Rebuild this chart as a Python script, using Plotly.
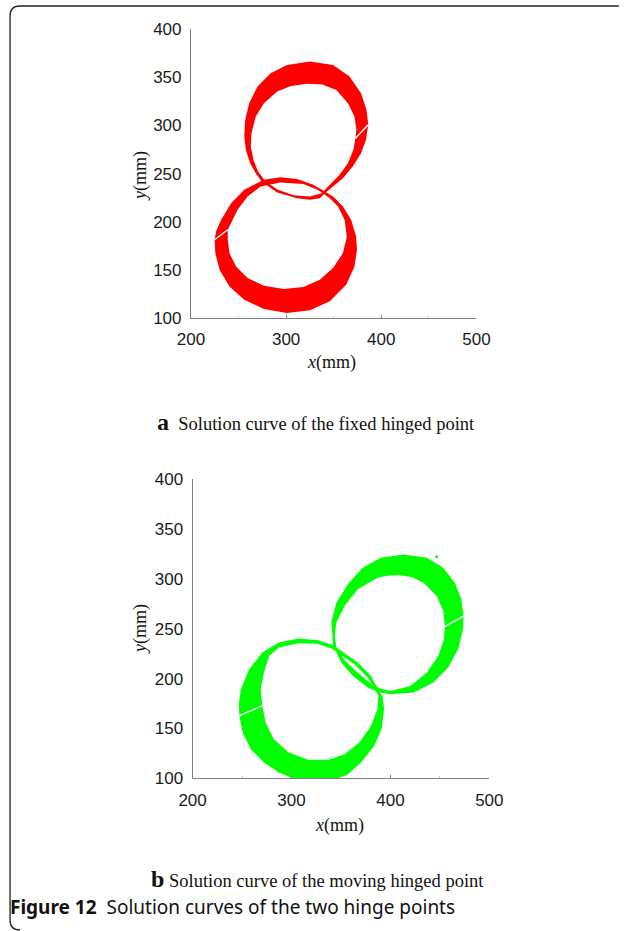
import plotly.graph_objects as go

W, H = 624, 931

# ---------------------------------------------------------------------------
# Solution bands (mm). Each loop is drawn as the area between an outer and an
# inner boundary; the first point of each boundary sits on the parameter seam.
# ---------------------------------------------------------------------------

# (a) fixed hinged point - upper loop
FIX_UP_OUT_X = [386.3, 384.5, 378.7, 366.6, 349.3, 325.1, 300.9, 283.7, 269.8, 261.2, 257.0,
                256.0, 257.7, 262.2, 268.1, 274.3, 290.6, 311.3, 325.1, 335.5, 340.7, 349.3,
                359.7, 370.0, 378.7, 383.9]
FIX_UP_OUT_Y = [300.7, 316.2, 333.5, 350.8, 362.9, 366.4, 362.9, 354.3, 340.4, 323.1, 305.8,
                288.5, 274.7, 260.9, 250.5, 241.8, 230.4, 224.5, 222.8, 224.5, 229.7, 236.6,
                245.3, 257.4, 271.2, 285.1]
FIX_UP_IN_X = [372.8, 373.8, 371.8, 364.9, 352.8, 338, 322, 305, 290.6, 276.7, 268.1, 263.6,
               262.9, 265.7, 270.5, 278.5, 290.6, 307.8, 325.1, 337.2, 345.9, 356.2, 364.9,
               370.7]
FIX_UP_IN_Y = [286.8, 296, 309.3, 323.1, 337, 342.5, 343.5, 341, 335.3, 323.1, 309.3, 292,
               278.2, 264.3, 252.2, 241.8, 233.6, 227.5, 226.3, 229.7, 238.4, 248.8, 260.9,
               274.7]

# (a) fixed hinged point - lower loop
FIX_LO_OUT_X = [224.9, 225.6, 230.1, 240.5, 256, 276.7, 300.9, 325.1, 345.9, 363.1, 371.8,
                374.5, 373.5, 368.3, 359.7, 349.3, 328.6, 311.3, 294, 276.7, 256, 242.2, 231.8,
                226.5]
FIX_LO_OUT_Y = [181.3, 167.4, 150.1, 132.8, 119, 109.3, 105.2, 107.9, 117.3, 134.6, 153.6,
                170.9, 184.7, 202, 215.9, 226.3, 238.4, 244.3, 246.3, 243.6, 233.2, 219.3, 202,
                190]
FIX_LO_IN_X = [238.7, 238.7, 240.5, 247.4, 259.5, 276.7, 297.5, 318.2, 335.5, 349.3, 359.7,
               363.8, 361.4, 354.5, 345.9, 333.5, 318.2, 294, 273.3, 259.5, 249.1, 242.2]
FIX_LO_IN_Y = [191.7, 181.3, 167.4, 153.6, 141.5, 133.5, 130.1, 132.1, 139.8, 151.9, 167.4,
               184.7, 202, 215.9, 224.5, 233, 239.1, 240.8, 236.6, 226.3, 212.4, 198.6]

# (b) moving hinged point - upper loop
MOV_UP_OUT_X = [474, 471.7, 465.1, 453.4, 436.8, 413.5, 390.2, 371.9, 357, 345.3, 340.3, 341,
                342, 350.3, 362, 377, 389.2, 400.2, 423.5, 443.4, 458.4, 468.4, 473.4]
MOV_UP_OUT_Y = [262.6, 279.3, 296, 311, 321, 324.3, 321, 311, 294.3, 276, 256, 242.6, 233.3,
                216, 202.6, 191, 186, 184.3, 186, 196, 211, 229.3, 249.3]
MOV_UP_IN_X = [455.1, 453.4, 446.8, 433.5, 422, 410.2, 398, 386.9, 367, 353.6, 345.3, 343.7,
               345.5, 353.5, 365, 379.5, 390.2, 400.2, 420.2, 436.8, 448.4, 454.1]
MOV_UP_IN_Y = [252, 267.6, 282.6, 296, 301.5, 303.3, 303.2, 301, 289.3, 272.6, 256, 242.6,
               231, 218.5, 207.5, 195.5, 189.8, 187.6, 192.6, 206, 222.6, 239.3]

# (b) moving hinged point - lower loop
MOV_LO_OUT_X = [247.2, 250.6, 258.9, 272.2, 287.1, 302, 320, 340, 356, 370.3, 383.6, 391.2,
                393.6, 391.9, 389.2, 380.3, 367, 350.3, 342, 327, 307.1, 287.1, 270.5, 257.2,
                248.9, 246.8]
MOV_LO_OUT_Y = [163, 146, 129.3, 116, 106, 100, 97, 97.5, 103.5, 116, 132.6, 150, 170, 182.6,
                186, 202.6, 216, 227.6, 233.3, 238.3, 240, 236, 226, 209.3, 189.3, 175]
MOV_LO_IN_X = [270.5, 273.8, 282.1, 297.1, 317.1, 337, 353.6, 368.6, 380.3, 386.9, 387.9,
               383.5, 377.2, 364.5, 348.7, 340.5, 325.9, 307.1, 287.1, 277.2, 272.2, 268.8]
MOV_LO_IN_Y = [172.6, 156, 139.3, 126, 118.7, 118.7, 124.3, 136, 152.6, 169.3, 182.6, 191,
               200.9, 213.5, 224.5, 230.2, 234.8, 235.3, 231, 222.6, 206, 189.3]

# isolated solution point of the moving hinge
MOV_STRAY_X = [446.8]
MOV_STRAY_Y = [322]

X_TICKS = [200, 300, 400, 500]
X_MINOR = [250, 350, 450]
Y_TICKS = [100, 150, 200, 250, 300, 350, 400]

RED = "#ff0000"
GREEN = "#00ff00"


def band(ox, oy, ix, iy, color, xa, ya):
    """Ring-shaped band: the outer boundary followed by the inner boundary run
    backwards, so the nonzero fill rule leaves the hole empty."""
    xs = list(ox) + [ox[0]] + [ix[0]] + list(ix[::-1])
    ys = list(oy) + [oy[0]] + [iy[0]] + list(iy[::-1])
    fill = go.Scatter(x=xs, y=ys, mode="lines", fill="toself", fillcolor=color,
                      line=dict(width=0, color=color), hoverinfo="skip",
                      xaxis=xa, yaxis=ya, showlegend=False)
    seam = go.Scatter(x=[ox[0], ix[0]], y=[oy[0], iy[0]], mode="lines",
                      line=dict(width=1.4, color="white"), hoverinfo="skip",
                      xaxis=xa, yaxis=ya, showlegend=False)
    return [fill, seam]


traces = []
traces += band(FIX_UP_OUT_X, FIX_UP_OUT_Y, FIX_UP_IN_X, FIX_UP_IN_Y, RED, "x", "y")
traces += band(FIX_LO_OUT_X, FIX_LO_OUT_Y, FIX_LO_IN_X, FIX_LO_IN_Y, RED, "x", "y")
traces += band(MOV_UP_OUT_X, MOV_UP_OUT_Y, MOV_UP_IN_X, MOV_UP_IN_Y, GREEN, "x2", "y2")
traces += band(MOV_LO_OUT_X, MOV_LO_OUT_Y, MOV_LO_IN_X, MOV_LO_IN_Y, GREEN, "x2", "y2")
traces.append(go.Scatter(x=MOV_STRAY_X, y=MOV_STRAY_Y, mode="markers",
                         marker=dict(size=3, color=GREEN), hoverinfo="skip",
                         xaxis="x2", yaxis="y2", showlegend=False))

fig = go.Figure(traces)

# the plotting paper occupies x 10..614 px and y 9..922 px of the page
PAPER_L, PAPER_R, PAPER_T, PAPER_B = 10, 614, 9, 922


def px_x(x):
    return (x - PAPER_L) / (PAPER_R - PAPER_L)


def px_y(y):
    return 1 - (y - PAPER_T) / (PAPER_B - PAPER_T)


TICK_FONT = dict(family="Liberation Sans, Arial, sans-serif", size=17, color="#1a1a1a")
AXIS_GREY = "#808080"


def x_axis(domain, anchor):
    return dict(domain=domain, anchor=anchor, range=[200, 500], tickvals=X_TICKS,
                showline=True, linecolor=AXIS_GREY, linewidth=1, mirror=False,
                ticks="inside", ticklen=3, tickcolor=AXIS_GREY, tickwidth=1,
                minor=dict(tickvals=X_MINOR, ticks="inside", ticklen=2, tickcolor="#c8c8c8"),
                showgrid=False, zeroline=False, tickfont=TICK_FONT, ticklabelstandoff=6,
                fixedrange=True)


def y_axis(domain, anchor):
    return dict(domain=domain, anchor=anchor, range=[100, 400], tickvals=Y_TICKS,
                showline=True, linecolor=AXIS_GREY, linewidth=1, mirror=False,
                ticks="", showgrid=False, zeroline=False, tickfont=TICK_FONT,
                ticklabelstandoff=5, fixedrange=True)


fig.update_layout(
    width=W, height=H,
    margin=dict(l=0, r=0, t=0, b=0),
    paper_bgcolor="white", plot_bgcolor="white",
    showlegend=False,
    xaxis=x_axis([px_x(189.3), px_x(478.7)], "y"),
    yaxis=y_axis([px_y(318.3), px_y(29.3)], "x"),
    xaxis2=x_axis([px_x(191), px_x(491.7)], "y2"),
    yaxis2=y_axis([px_y(779.3), px_y(479.3)], "x2"),
)

SERIF = "Liberation Serif, Times New Roman, serif"
SANS = "Noto Sans, Open Sans, sans-serif"

notes = [
    dict(x=px_x(331.7), y=px_y(363.3), text="<i>x</i>(mm)", font=dict(family=SERIF, size=18)),
    dict(x=px_x(138.3), y=px_y(176.7), text="<i>y</i>(mm)", font=dict(family=SERIF, size=18),
         textangle=-90),
    dict(x=px_x(340), y=px_y(826.7), text="<i>x</i>(mm)", font=dict(family=SERIF, size=18)),
    dict(x=px_x(138.3), y=px_y(630), text="<i>y</i>(mm)", font=dict(family=SERIF, size=18),
         textangle=-90),
    dict(x=px_x(316), y=px_y(422),
         text="<span style='font-size:24px'><b>a</b></span>  Solution curve of the fixed hinged point",
         font=dict(family=SERIF, size=18.5)),
    dict(x=px_x(318), y=px_y(880),
         text="<span style='font-size:24px'><b>b</b></span> Solution curve of the moving hinged point",
         font=dict(family=SERIF, size=18.5)),
    dict(x=px_x(4), y=px_y(908), xanchor="left",
         text="<b>Figure 12</b>  Solution curves of the two hinge points",
         font=dict(family=SANS, size=19)),
]
for n in notes:
    base = dict(xref="paper", yref="paper", showarrow=False, xanchor="center",
                yanchor="middle")
    base.update(n)
    base["font"] = dict(color="#111111", **base["font"])
    fig.add_annotation(**base)

# rounded frame around the figure (top and left edges)
r = 10
frame = (f"M {px_x(623)},{px_y(6)} L {px_x(6 + r)},{px_y(6)} "
         f"Q {px_x(6)},{px_y(6)} {px_x(6)},{px_y(6 + r)} "
         f"L {px_x(6)},{px_y(931 - r)} Q {px_x(6)},{px_y(931)} {px_x(6 + r)},{px_y(931)}")
fig.add_shape(type="path", path=frame, xref="paper", yref="paper",
              line=dict(color="#222222", width=1.3))

fig.write_html("out.html")
